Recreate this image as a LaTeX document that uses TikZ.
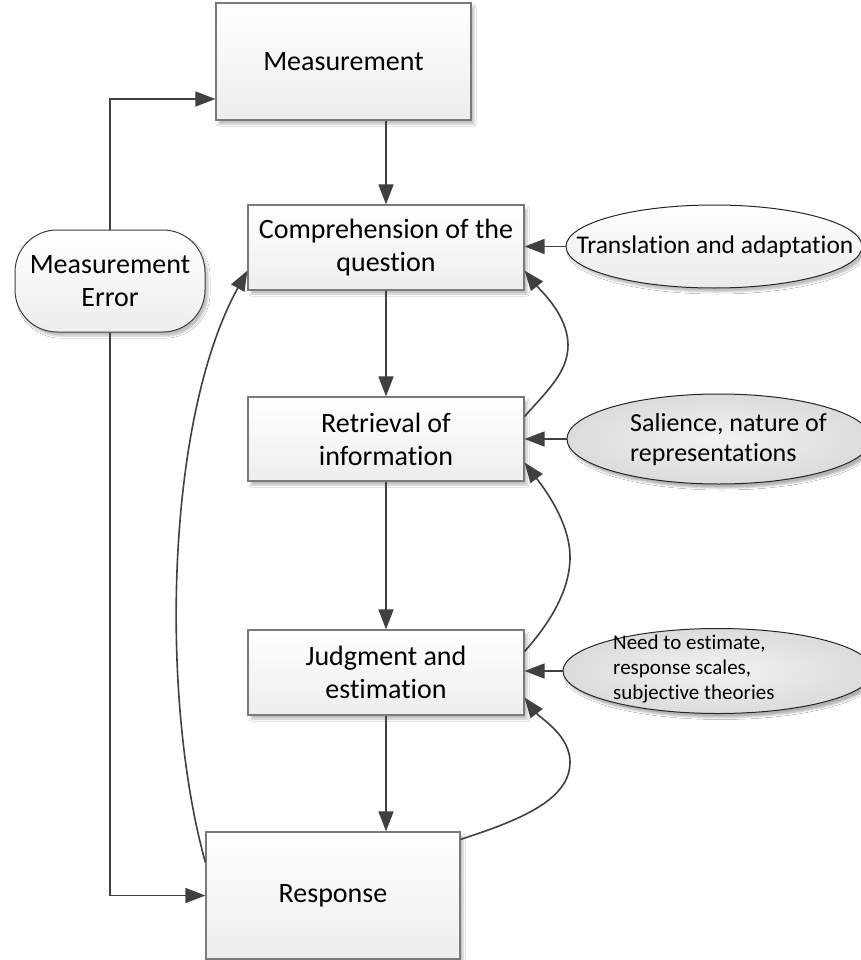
\documentclass[tikz,border=0pt]{standalone}
\usepackage{fontspec}
\setmainfont{Carlito}[Ligatures=NoCommon]
\usetikzlibrary{arrows.meta,shapes.geometric,shadows.blur}
\definecolor{lineC}{HTML}{404040}
\definecolor{boxB}{HTML}{7A7A7A}
\begin{document}
\begin{tikzpicture}[x=1pt,y=-1pt,
  procbox/.style={rectangle, draw=boxB, line width=1.2pt, top color=white, bottom color=black!7,
    blur shadow={shadow xshift=3pt, shadow yshift=-4pt, shadow blur radius=2pt, shadow opacity=25},
    inner sep=0pt, align=center, font=\fontsize{28}{33}\selectfont},
  conn/.style={draw=lineC, line width=1.6pt, -{Triangle[length=20pt,width=15pt]}},
  texoval/.style={ellipse, draw=black!85, line width=1pt, shading=radial, inner color=black!5, outer color=black!14,
    blur shadow={shadow xshift=3pt, shadow yshift=-4pt, shadow blur radius=2pt, shadow opacity=30}, inner sep=0pt},
  ovaltext/.style={align=left, inner sep=0pt, anchor=west}
]
\useasboundingbox (0,0) rectangle (860,960);
\fill[white] (0,0) rectangle (860,960);

% process boxes
\node[procbox, minimum width=255pt, minimum height=117pt] (meas) at (343.5,61.5) {Measurement};
\node[procbox, minimum width=276pt, minimum height=85pt] (comp) at (386,247.5) {Comprehension of the\\question};
\node[procbox, minimum width=276pt, minimum height=84pt] (retr) at (386,439) {Retrieval of\\information};
\node[procbox, minimum width=276pt, minimum height=85pt] (judg) at (386,672.5) {Judgment and\\estimation};
\node[procbox, minimum width=254pt, minimum height=127pt] (resp) at (333,895.5) {Response};

% measurement error
\node[procbox, draw=black!75, line width=1pt, rounded corners=42pt, minimum width=190pt, minimum height=102pt] (err) at (110,281) {Measurement\\Error};

% ovals
\node[ellipse, draw=black!85, line width=1pt, top color=white, bottom color=black!8,
  blur shadow={shadow xshift=3pt, shadow yshift=-4pt, shadow blur radius=2pt, shadow opacity=25},
  minimum width=296pt, minimum height=83pt, inner sep=0pt] (trans) at (714,246.5) {};
\node[inner sep=0pt, font=\fontsize{25.5}{31}\selectfont] (transT) at (715,247) {Translation and adaptation};
\node[texoval, minimum width=304pt, minimum height=90pt] (sal) at (719,439) {};
\node[ovaltext, font=\fontsize{26}{30}\selectfont] (salT) at (630,440) {Salience, nature of\\representations};
\node[texoval, minimum width=310pt, minimum height=85pt] (need) at (718,671) {};
\node[ovaltext, font=\fontsize{21}{25}\selectfont] (needT) at (613,669) {Need to estimate,\\response scales,\\subjective theories};

% main vertical flow
\draw[conn] (meas.south -| comp.north) -- (comp.north);
\draw[conn] (comp.south) -- (retr.north);
\draw[conn] (retr.south) -- (judg.north);
\draw[conn] (judg.south) -- (judg.south |- resp.north);

% measurement error loop
\draw[conn] (err.north) |- ([yshift=-37.5pt]meas.west);
\draw[conn] (err.south) |- (resp.west);

% influences from ovals
\draw[conn] (trans.west) -- (comp.east |- trans.west);
\draw[conn] (sal.west) -- (retr.east |- sal.west);
\draw[conn] (need.west) -- (judg.east |- need.west);

% feedback curves
\draw[conn] ([yshift=-20pt]retr.north east) .. controls (548,390) and (568,372) .. (568,345)
  .. controls (568,315) and (540,290) .. ([yshift=20pt]comp.south east);
\draw[conn] ([yshift=-22pt]judg.north east) .. controls (548,625) and (570,592) .. (570,557)
  .. controls (570,520) and (540,483) .. ([yshift=19pt]retr.south east);
\draw[conn] ([yshift=-8pt]resp.north east) .. controls (520,820) and (570,800) .. (570,762)
  .. controls (570,735) and (540,718) .. ([yshift=18pt]judg.south east);
\draw[conn] ([yshift=-31pt]resp.north west) .. controls (160,700) and (165,420) .. ([yshift=20pt]comp.south west);
\end{tikzpicture}
\end{document}
